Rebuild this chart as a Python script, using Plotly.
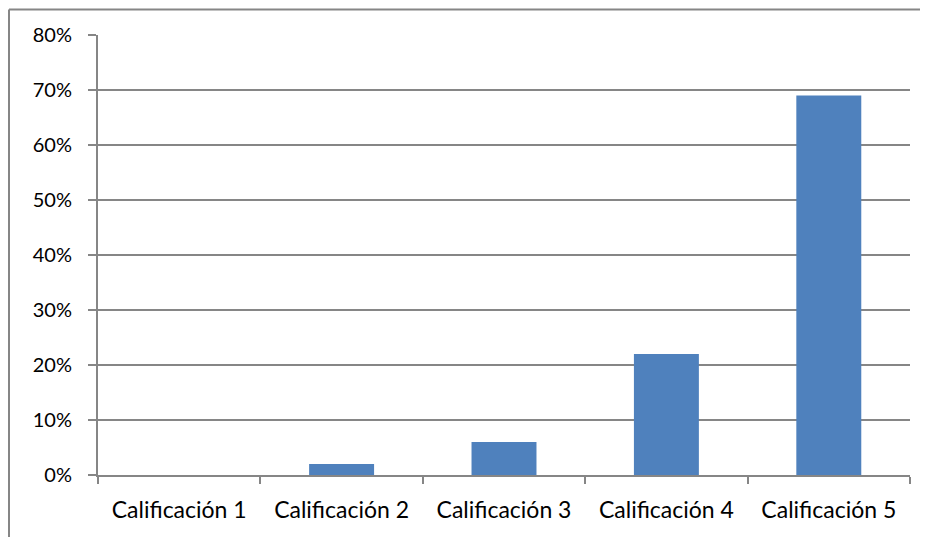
import plotly.graph_objects as go

categorias = ['Calificación 1', 'Calificación 2', 'Calificación 3', 'Calificación 4', 'Calificación 5']
porcentajes = [0.0, 0.02, 0.06, 0.22, 0.69]

GRIS = '#868686'
AZUL = '#4F81BD'
FUENTE = 'Lato'

fig = go.Figure()
fig.add_trace(go.Bar(
    x=categorias,
    y=porcentajes,
    marker=dict(color=AZUL, line=dict(width=0)),
    hovertemplate='%{x}: %{y:.0%}<extra></extra>',
))

# marco del gráfico (solo bordes superior e izquierdo visibles)
fig.add_shape(type='line', xref='paper', yref='paper',
              x0=-0.1096, x1=1.05, y0=1.058, y1=1.058,
              line=dict(color=GRIS, width=2))
fig.add_shape(type='line', xref='paper', yref='paper',
              x0=-0.1096, x1=-0.1096, y0=1.058, y1=-0.16,
              line=dict(color=GRIS, width=2))

# la página tiene 8 px de margen en el body
fig.update_layout(
    width=928,
    height=537,
    margin=dict(l=90, r=26, t=27, b=70),
    plot_bgcolor='white',
    paper_bgcolor='white',
    bargap=0.6,
    showlegend=False,
    font=dict(family=FUENTE, size=21, color='black'),
    xaxis=dict(
        showline=True, linecolor=GRIS, linewidth=2,
        ticks='outside', tickson='boundaries', ticklen=7,
        tickcolor=GRIS, tickwidth=2,
        showgrid=False,
        tickfont=dict(size=23),
        ticklabelstandoff=13,
    ),
    yaxis=dict(
        range=[0, 0.8], dtick=0.1, tickformat='.0%',
        showline=True, linecolor=GRIS, linewidth=2,
        ticks='outside', ticklen=8, tickcolor=GRIS, tickwidth=2,
        showgrid=True, gridcolor=GRIS, gridwidth=2,
        zeroline=False,
        tickfont=dict(size=20),
        ticklabelstandoff=12,
    ),
)

fig.write_html('out.html')
